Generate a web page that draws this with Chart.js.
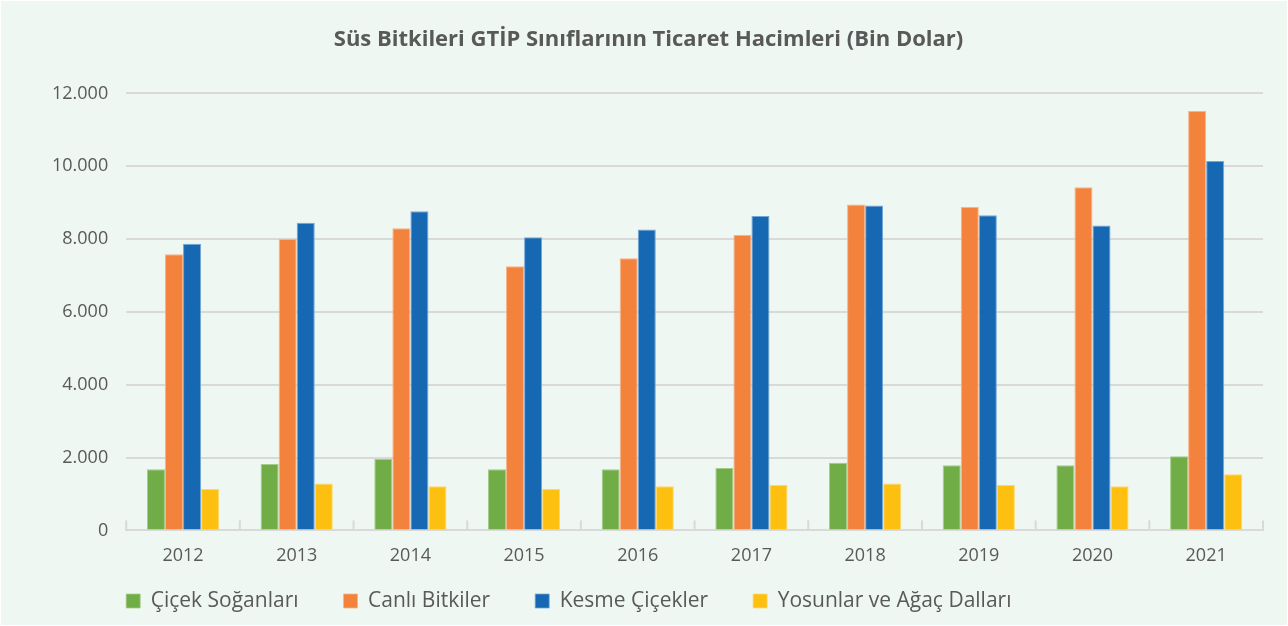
<!DOCTYPE html>
<html lang="tr">
<head>
<meta charset="utf-8">
<script src="https://cdn.jsdelivr.net/npm/chart.js@4/dist/chart.umd.min.js"></script>
<style>
  html, body { margin: 0; padding: 0; background: #ffffff; }
  #kutu { position: absolute; left: 1px; top: 1px; width: 1286px; height: 624px; background: #eef7f2; }
</style>
</head>
<body>
<div id="kutu"><canvas id="grafik"></canvas></div>
<script>
// Veriler
const yillar = ['2012', '2013', '2014', '2015', '2016', '2017', '2018', '2019', '2020', '2021'];
const cicekSoganlari = [1680, 1825, 1970, 1680, 1680, 1715, 1860, 1790, 1790, 2035];
const canliBitkiler = [7580, 8005, 8300, 7255, 7475, 8115, 8950, 8880, 9420, 11520];
const kesmeCicekler = [7870, 8445, 8765, 8050, 8260, 8630, 8920, 8655, 8370, 10145];
const yosunlar = [1135, 1285, 1210, 1135, 1210, 1245, 1285, 1245, 1210, 1540];
const yEtiketleri = [0, 2000, 4000, 6000, 8000, 10000, 12000];

const YAZI = '"Open Sans", sans-serif';
const GRI = '#d9d9d9';

// Türkçe binlik ayraç
function binlik(v) {
  return String(v).replace(/\B(?=(\d{3})+(?!\d))/g, '.');
}

// Lejant: yüksekliği sabitle, grafik alanının soluna hizala
const lejantAyar = {
  id: 'lejantAyar',
  beforeLayout(chart) {
    const lg = chart.legend;
    if (lg && !lg._yamali) {
      const eskiFit = lg.fit.bind(lg);
      lg.fit = function () { eskiFit(); this.height = 51; };
      lg._yamali = true;
    }
  },
  afterLayout(chart) {
    const lg = chart.legend;
    const pad = lg.options.labels.padding;
    lg.left = chart.chartArea.left - pad;
    lg.top += 27 - (pad + lg.options.labels.font.size / 2);
  }
};

// Kategori sınırlarında eksen üstüne kısa çentikler
const centikler = {
  id: 'centikler',
  afterDatasetsDraw(chart) {
    const x = chart.scales.x;
    const ctx = chart.ctx;
    const alt = chart.chartArea.bottom;
    const n = yillar.length;
    ctx.save();
    ctx.strokeStyle = GRI;
    ctx.lineWidth = 2;
    for (let i = 0; i <= n; i++) {
      let px;
      if (i === 0) px = x.left;
      else if (i === n) px = x.right;
      else px = (x.getPixelForTick(i - 1) + x.getPixelForTick(i)) / 2;
      ctx.beginPath();
      ctx.moveTo(px, alt - 10);
      ctx.lineTo(px, alt);
      ctx.stroke();
    }
    ctx.restore();
  }
};

new Chart(document.getElementById('grafik'), {
  type: 'bar',
  data: {
    labels: yillar,
    datasets: [
      { label: 'Çiçek Soğanları', data: cicekSoganlari, backgroundColor: '#70ad47', borderColor: '#a4cc8a' },
      { label: 'Canlı Bitkiler', data: canliBitkiler, backgroundColor: '#f2823c', borderColor: '#f7b48a' },
      { label: 'Kesme Çiçekler', data: kesmeCicekler, backgroundColor: '#1768b3', borderColor: '#74a6d6' },
      { label: 'Yosunlar ve Ağaç Dalları', data: yosunlar, backgroundColor: '#fdc010', borderColor: '#fdd86a' }
    ]
  },
  options: {
    responsive: true,
    maintainAspectRatio: false,
    animation: false,
    datasets: {
      bar: {
        borderWidth: { top: 1, left: 1, right: 1, bottom: 0 },
        categoryPercentage: 0.635,
        barPercentage: 1
      }
    },
    layout: { padding: { top: 10, right: 24, bottom: 0, left: 33 } },
    plugins: {
      title: {
        display: true,
        text: 'Süs Bitkileri GTİP Sınıflarının Ticaret Hacimleri (Bin Dolar)',
        color: '#595959',
        font: { family: YAZI, size: 22, weight: 'bold' },
        padding: { top: 16, bottom: 40 }
      },
      legend: {
        position: 'bottom',
        align: 'start',
        labels: {
          color: '#595959',
          font: { family: YAZI, size: 21 },
          boxWidth: 14,
          boxHeight: 14,
          padding: 45
        }
      },
      tooltip: { enabled: false }
    },
    scales: {
      x: {
        grid: { display: false },
        border: { display: true, color: GRI, width: 2 },
        ticks: { color: '#595959', font: { family: YAZI, size: 18 }, padding: 7 }
      },
      y: {
        min: 0,
        max: 12000,
        afterBuildTicks(axis) {
          axis.ticks = yEtiketleri.map(v => ({ value: v }));
        },
        grid: { color: GRI, lineWidth: 2, drawTicks: false },
        border: { display: false },
        ticks: {
          color: '#595959',
          font: { family: YAZI, size: 18 },
          padding: 18,
          callback: v => binlik(v)
        }
      }
    }
  },
  plugins: [lejantAyar, centikler]
});
</script>
</body>
</html>
